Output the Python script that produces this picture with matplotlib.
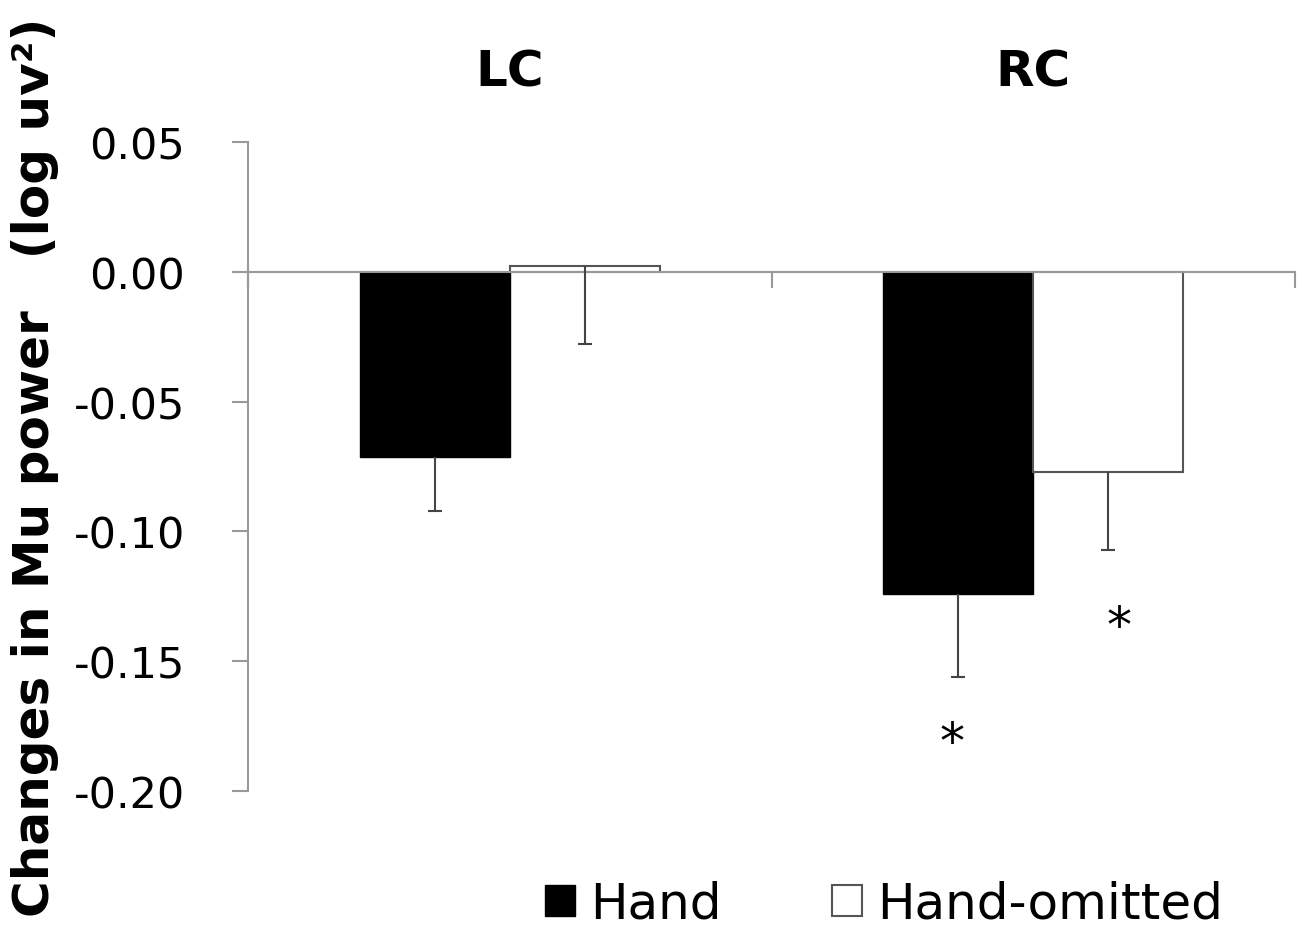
import matplotlib
matplotlib.use("Agg")
import matplotlib.pyplot as plt
from matplotlib.patches import Patch
import matplotlib.transforms as mtransforms
import numpy as np

categories = ["LC", "RC"]
series_names = ["Hand", "Hand-omitted"]
hand_values = [-0.0715, -0.1242]
omitted_values = [0.0023, -0.0773]
hand_err = [0.0208, 0.0318]
omitted_err = [0.0303, 0.0300]
significant_hand = [False, True]
significant_omitted = [False, True]
yticks = [0.05, 0.00, -0.05, -0.10, -0.15, -0.20]
ytick_labels = ["0.05", "0.00", "-0.05", "-0.10", "-0.15", "-0.20"]

plt.rcParams['font.family'] = ['DejaVu Sans']

fig = plt.figure(figsize=(13, 9.37), dpi=100)
ax = fig.add_axes([248/1300, 1-792/937, (1295-248)/1300, (792-143)/937])

x = np.arange(len(categories))
w = 0.2865
ax.bar(x - w/2, hand_values, width=w, color='black', edgecolor='black', linewidth=1.0, zorder=2)
ax.bar(x + w/2, omitted_values, width=w, color='white', edgecolor='#555555', linewidth=1.5, zorder=2)

for xs, vals, errs in [(x - w/2, hand_values, hand_err), (x + w/2, omitted_values, omitted_err)]:
    eb = ax.errorbar(xs, vals, yerr=[errs, [0]*len(errs)], fmt='none',
                     ecolor='#444444', elinewidth=1.5, capsize=5, capthick=1.5, zorder=3)
    caps = eb[1]
    if len(caps) > 1:
        caps[1].set_visible(False)

for i in range(len(categories)):
    if significant_hand[i]:
        ax.text(x[i] - w/2 - 0.012, hand_values[i] - hand_err[i] - 0.0255, "*",
                ha='center', va='center', fontsize=36, color='black')
    if significant_omitted[i]:
        ax.text(x[i] + w/2 + 0.02, omitted_values[i] - omitted_err[i] - 0.0295, "*",
                ha='center', va='center', fontsize=36, color='black')

ax.set_xlim(-0.5, len(categories) - 0.5)
ax.set_ylim(-0.20, 0.05)
ax.set_yticks(yticks)
ax.set_yticklabels(ytick_labels)
ax.set_xticks(np.arange(len(categories) + 1) - 0.5)
ax.set_xticklabels([])

for s in ['top', 'right']:
    ax.spines[s].set_visible(False)
ax.spines['bottom'].set_position(('data', 0))
ax.spines['bottom'].set_color('#999999')
ax.spines['bottom'].set_linewidth(1.5)
ax.spines['left'].set_color('#999999')
ax.spines['left'].set_linewidth(1.5)
ax.tick_params(axis='y', direction='out', length=11.5, width=1.5, color='#999999',
               labelsize=31, pad=34)
ax.tick_params(axis='x', direction='out', length=11.5, width=1.5, color='#999999')

trans = mtransforms.blended_transform_factory(ax.transData, ax.transAxes)
for i, c in enumerate(categories):
    ax.text(x[i], 1.109, c, transform=trans, ha='center', va='center',
            fontsize=36, fontweight='bold')

fig.text(35/1300, 0.5016, "Changes in Mu power   (log uv²)", rotation=90,
         ha='center', va='center', fontsize=36, fontweight='bold')

handles = [Patch(facecolor='black', edgecolor='black'),
           Patch(facecolor='white', edgecolor='#555555', linewidth=1.5)]
fig.legend(handles, series_names, loc='center', bbox_to_anchor=(884/1300, 1-905/937),
           ncol=2, frameon=False, fontsize=36, handlelength=0.6, handleheight=0.6,
           handletextpad=0.3, columnspacing=2.2, borderpad=0)

fig.savefig("out.png", dpi=100, facecolor='white')
